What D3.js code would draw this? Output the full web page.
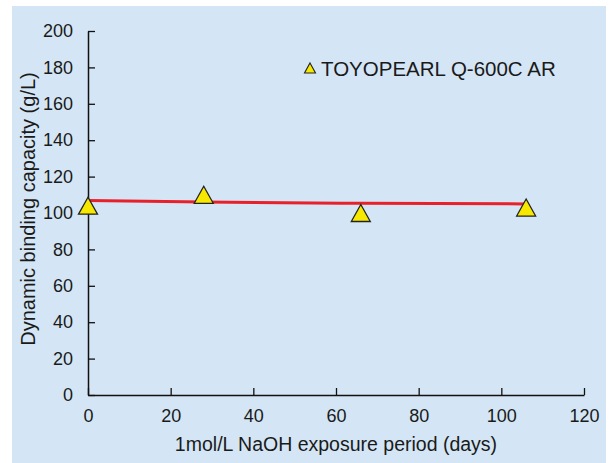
<!DOCTYPE html>
<html><head><meta charset="utf-8">
<script src="https://cdn.jsdelivr.net/npm/d3@7"></script>
<style>
html,body{margin:0;padding:0;background:#fff;}
svg text{font-family:"Liberation Sans",Arial,sans-serif;fill:#1a1a1a;}
</style></head>
<body><svg id="chart" width="611" height="463"></svg>
<script>
const days = [0, 28, 66, 106];
const capacity = [104, 110, 100, 103];
const fitDays = [0, 28, 66, 106];
const fitValues = [106.8, 106.0, 105.3, 105.0];
const xTicks = [0, 20, 40, 60, 80, 100, 120];
const yTicks = [0, 20, 40, 60, 80, 100, 120, 140, 160, 180, 200];
const seriesName = "TOYOPEARL Q-600C AR";
const xTitle = "1mol/L NaOH exposure period (days)";
const yTitle = "Dynamic binding capacity (g/L)";

const svg = d3.select("#chart");
svg.append("rect").attr("x",12).attr("y",6).attr("width",594).attr("height",457).attr("fill","#d4e6f5");

const x = d3.scaleLinear().domain([0,120]).range([88,584]);
const y = d3.scaleLinear().domain([0,200]).range([395,31]);

const xAxis = svg.append("g").attr("transform","translate(0,395)")
  .call(d3.axisBottom(x).tickValues(xTicks).tickSizeInner(-7).tickSizeOuter(0).tickPadding(14));
const yAxis = svg.append("g").attr("transform","translate(88,0)")
  .call(d3.axisLeft(y).tickValues(yTicks).tickSizeInner(-7).tickSizeOuter(0).tickPadding(15));
[xAxis,yAxis].forEach(a=>{
  a.selectAll("path.domain").attr("stroke","#111").attr("stroke-width",1.5);
  a.selectAll(".tick line").attr("stroke","#111").attr("stroke-width",1.3);
  a.selectAll(".tick text").attr("font-size",18).attr("font-family","Liberation Sans, Arial, sans-serif").attr("fill","#1a1a1a");
});

svg.append("text").attr("x",336).attr("y",451).attr("text-anchor","middle").attr("font-size",19.5).text(xTitle);
svg.append("text").attr("transform","translate(35,209) rotate(-90)").attr("text-anchor","middle").attr("font-size",20).text(yTitle);

const line = d3.line().x((d,i)=>x(fitDays[i])).y(d=>y(d)).curve(d3.curveMonotoneX);
svg.append("path").attr("d",line(fitValues)).attr("fill","none").attr("stroke","#e8202a").attr("stroke-width",3);

function tri(cx,cy,w,h){return `M${cx},${cy-h/2}L${cx+w/2},${cy+h/2}L${cx-w/2},${cy+h/2}Z`;}
svg.selectAll("path.pt").data(capacity).enter().append("path").attr("class","pt")
  .attr("d",(d,i)=>tri(x(days[i]),y(d),19,17))
  .attr("fill","#f7e800").attr("stroke","#222").attr("stroke-width",1.3).attr("stroke-linejoin","miter");

svg.append("path").attr("d",tri(310,68,11,10)).attr("fill","#f7e800").attr("stroke","#222").attr("stroke-width",1.1);
svg.append("text").attr("x",321).attr("y",75.5).attr("font-size",20.5).text(seriesName);
</script></body></html>
